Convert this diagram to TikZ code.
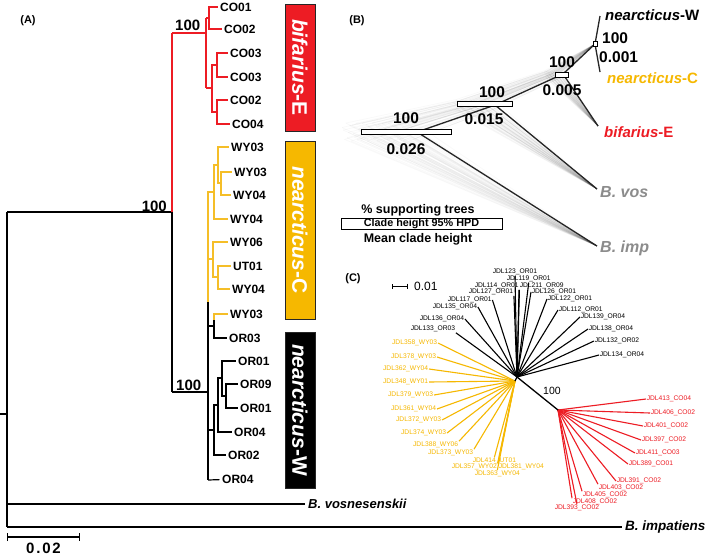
\documentclass[tikz,border=0pt]{standalone}
\usepackage{fontspec}
\setmainfont{Liberation Sans}
\usetikzlibrary{calc,arrows.meta}
\newcommand\myfs[1]{\fontsize{#1}{#1}\selectfont}
\definecolor{cRed}{RGB}{237,28,36}
\definecolor{cYel}{RGB}{246,184,0}
\definecolor{cYelL}{RGB}{245,190,40}
\definecolor{cGrayB}{RGB}{140,140,140}
\begin{document}
\begin{tikzpicture}[x=1pt,y=-1pt,
  brA/.style={line width=1.2pt, draw=black},
  brR/.style={line width=1.2pt, draw=cRed},
  brY/.style={line width=1.2pt, draw=cYelL},
  tipA/.style={anchor=west, inner sep=2.5pt, font=\myfs{12}\bfseries},
  supA/.style={inner sep=0pt, font=\myfs{15}\bfseries},
  cbar/.style={draw=black!85, line width=1pt, text=white, font=\myfs{21}\bfseries, rotate=-90, minimum height=30pt, inner sep=0pt},
  panel/.style={font=\myfs{11}\bfseries, inner sep=0pt},
  brB/.style={line width=1.3pt, draw=black!85},
  hpd/.style={draw=black, fill=white, line width=0.9pt, inner sep=0pt},
  supB/.style={font=\myfs{15.5}\bfseries, inner sep=0pt},
  tipB/.style={anchor=west, font=\myfs{15}\bfseries, inner sep=0pt},
  cloud/.style={draw=black, opacity=0.025, line width=0.8pt},
  legB/.style={font=\myfs{12.5}\bfseries, inner sep=0pt},
  brC/.style={line width=1.1pt},
  labC/.style={font=\myfs{6.7}, inner sep=0.6pt}
]
\useasboundingbox (0,0) rectangle (709,558);
\fill[white] (0,0) rectangle (709,558);

% ================= Panel A =================
\node[panel] (pA) at (28,21) {(A)};

% tip labels
\node[tipA] (CO01) at (217.5,7) {CO01};
\node[tipA] (CO02a) at (221.5,29) {CO02};
\node[tipA] (CO03a) at (227.5,53) {CO03};
\node[tipA] (CO03b) at (227.5,77) {CO03};
\node[tipA] (CO02b) at (227.5,100) {CO02};
\node[tipA] (CO04) at (229.5,124) {CO04};
\node[tipA] (WY03a) at (228.5,147) {WY03};
\node[tipA] (WY03b) at (231.5,172) {WY03};
\node[tipA] (WY04a) at (230.5,195) {WY04};
\node[tipA] (WY04b) at (227.5,219) {WY04};
\node[tipA] (WY06) at (227.5,242) {WY06};
\node[tipA] (UT01) at (230.5,266) {UT01};
\node[tipA] (WY04c) at (229.5,289) {WY04};
\node[tipA] (WY03d) at (227.5,314) {WY03};
\node[tipA] (OR03) at (226.5,338) {OR03};
\node[tipA] (OR01a) at (235.5,361) {OR01};
\node[tipA] (OR09) at (237.5,384) {OR09};
\node[tipA] (OR01b) at (237.5,408) {OR01};
\node[tipA] (OR04a) at (231.5,432) {OR04};
\node[tipA] (OR02) at (225.5,455) {OR02};
\node[tipA] (OR04b) at (219.5,479) {OR04};

% root and outgroups
\coordinate (R0) at (0,414);
\coordinate (R) at (7,414);
\coordinate (Ra) at (7,212);
\coordinate (Rv) at (7,504);
\coordinate (Ri) at (7,527);
\node[anchor=west, inner sep=3pt, font=\myfs{13}\bfseries\itshape] (vos) at (305,504) {B. vosnesenskii};
\node[anchor=west, inner sep=3pt, font=\myfs{13.5}\bfseries\itshape] (imp) at (622,527) {B. impatiens};
\draw[brA] (R0) -- (R);
\draw[brA] (Ra) -- (Ri);
\draw[brA] (Rv) -- (vos);
\draw[brA] (Ri) -- (imp);

% ingroup
\coordinate (Ia) at (172,212);
\coordinate (Ib) at (172,33);
\coordinate (Ic) at (172,392);
\draw[brA] (Ra) -- (Ia);
\draw[brR] (Ia) -- (Ib);
\draw[brA] (Ia) -- (Ic);
\node[supA, anchor=east] (s1) at (167,206) {100};
\node[supA, anchor=west] (s2) at (175,25) {100};
\node[supA, anchor=west] (s3) at (176,385) {100};

% bifarius clade
\coordinate (bRj) at (206,33);
\coordinate (bR1) at (206,18);
\coordinate (bR2) at (206,88);
\coordinate (n1) at (209,18);
\coordinate (n2) at (212,88);
\coordinate (n3) at (217,65);
\coordinate (n4) at (217,112);
\draw[brR] (Ib) -- (bRj);
\draw[brR] (bR1) -- (bR2);
\draw[brR] (bR1) -- (n1);
\draw[brR] (bR2) -- (n2);
\draw[brR] (n1) |- (CO01);
\draw[brR] (n1) |- (CO02a);
\draw[brR] (n2) |- (n3);
\draw[brR] (n2) |- (n4);
\draw[brR] (n3) |- (CO03a);
\draw[brR] (n3) |- (CO03b);
\draw[brR] (n4) |- (CO02b);
\draw[brR] (n4) |- (CO04);

% nearcticus-C clade
\coordinate (yA) at (221,183);
\coordinate (yB) at (218,165);
\coordinate (yC) at (214,192);
\coordinate (yD) at (218,277);
\coordinate (yE) at (213,259);
\coordinate (yF) at (208,225);
\coordinate (yG) at (208,302);
\draw[brY] (yA) |- (WY03b);
\draw[brY] (yA) |- (WY04a);
\draw[brY] (yB) |- (WY03a);
\draw[brY] (yB) |- (yA);
\draw[brY] (yC) |- (yB);
\draw[brY] (yC) |- (WY04b);
\draw[brY] (yD) |- (UT01);
\draw[brY] (yD) |- (WY04c);
\draw[brY] (yE) |- (WY06);
\draw[brY] (yE) |- (yD);
\draw[brY] (yF) |- (yC);
\draw[brY] (yF) |- (yE);
\draw[brY] (yF) -- (yG);

% nearcticus-W clade
\coordinate (bb0) at (208,392);
\coordinate (bb1) at (208,326);
\coordinate (bb2) at (208,430);
\coordinate (nWb) at (208,480);
\coordinate (h) at (214,326);
\coordinate (hy) at (214,320);
\coordinate (i) at (226,396);
\coordinate (j) at (222,378);
\coordinate (k) at (218,405);
\coordinate (l) at (214,430);
\draw[brA] (Ic) -- (bb0);
\draw[brA] (yG) -- (nWb);
\draw[brA] (bb1) -- (h);
\draw[brY] (hy) |- (WY03d);
\draw[brA] (h) -- (hy);
\draw[brA] (h) |- (OR03);
\draw[brA] (i) |- (OR09);
\draw[brA] (i) |- (OR01b);
\draw[brA] (j) |- (OR01a);
\draw[brA] (j) |- (i);
\draw[brA] (k) |- (j);
\draw[brA] (k) |- (OR04a);
\draw[brA] (l) |- (k);
\draw[brA] (l) |- (OR02);
\draw[brA] (bb2) -- (l);
\draw[brA] (nWb) -- (OR04b);

% clade bars
\node[cbar, fill=cRed, minimum width=127pt] (barE) at (300,67.5) {\textit{bifarius}-E};
\node[cbar, fill=cYel, minimum width=178pt] (barC) at (300,230) {\textit{nearcticus}-C};
\node[cbar, fill=black, minimum width=156pt] (barW) at (300,410) {\textit{nearcticus}-W};

% scale bar
\coordinate (sA1) at (7,537);
\coordinate (sA2) at (80,537);
\draw[line width=1.2pt, {Bar[width=8pt]}-{Bar[width=8pt]}] (sA1) -- (sA2);
\node[font=\myfs{15}\bfseries, inner sep=0pt] (sAl) at (43.5,548) {\addfontfeature{LetterSpace=12}0.02};

% ================= Panel B =================
\node[panel] (pB) at (357,21) {(B)};
\coordinate (rB) at (417,132);
\coordinate (bn2) at (495,105);
\coordinate (bn3) at (563,74);
\coordinate (bn4) at (595,44);
\coordinate (tW) at (600,16);
\coordinate (tC) at (600,72);
\coordinate (tE) at (598,126);
\coordinate (tV) at (597,189);
\coordinate (tI) at (597,246);

\foreach \k in {1,...,60}{
  \pgfmathsetmacro\dy{9*sin(\k*137.5)}
  \pgfmathsetmacro\dx{-1.25*\k}
  \coordinate (c1) at ($(rB)+(\dx,\dy)$);
  \coordinate (c2) at ($(bn2)+(0.55*\dx,0.6*\dy)$);
  \coordinate (c3) at ($(bn3)+(0.25*\dx,0.4*\dy)$);
  \draw[cloud] (c1) -- (tI);
  \draw[cloud] (c1) -- (c2) -- (tV);
  \draw[cloud] (c2) -- (c3) -- (tE);
  \draw[cloud] (c3) -- (bn4);
}

\draw[brB] (rB) -- (bn2) -- (bn3) -- (bn4);
\draw[brB] (bn4) -- (tW);
\draw[brB] (bn4) -- (tC);
\draw[brB] (bn3) -- (tE);
\draw[brB] (bn2) -- (tV);
\draw[brB] (rB) -- (tI);

\node[hpd, minimum width=90pt, minimum height=5pt] (hpd1) at (406,131.5) {};
\node[hpd, minimum width=55pt, minimum height=4.5pt] (hpd2) at (484.5,104) {};
\node[hpd, minimum width=13pt, minimum height=5pt] (hpd3) at (561.5,74.5) {};
\node[hpd, minimum width=4pt, minimum height=5pt] (hpd4) at (595,43.5) {};

\node[supB] (b1s) at (406,118) {100};
\node[supB] (b1h) at (406,149) {0.026};
\node[supB] (b2s) at (492,92) {100};
\node[supB] (b2h) at (484,119) {0.015};
\node[supB] (b3s) at (562,62) {100};
\node[supB] (b3h) at (562,90) {0.005};
\node[supB, anchor=west] (b4s) at (602,38) {100};
\node[supB, anchor=west] (b4h) at (599,57) {0.001};

\node[tipB] (lW) at (605,15) {\textit{nearcticus}-W};
\node[tipB, text=cYel] (lC) at (607,78) {\textit{nearcticus}-C};
\node[tipB, text=cRed] (lE) at (604,132) {\textit{bifarius}-E};
\node[tipB, text=cGrayB, font=\myfs{16}\bfseries\itshape] (lV) at (600,192) {B. vos};
\node[tipB, text=cGrayB, font=\myfs{16}\bfseries\itshape] (lI) at (600,248) {B. imp};

\node[legB] (legT) at (418,210) {\% supporting trees};
\node[hpd, minimum width=161pt, minimum height=11pt, font=\myfs{10.8}\bfseries] (legBox) at (421.5,223.5) {Clade height 95\% HPD};
\node[legB] (legM) at (418,239) {Mean clade height};

% ================= Panel C =================
\node[panel] (pC) at (353,279) {(C)};
\coordinate (sc1) at (392,286);
\coordinate (sc2) at (408,286);
\draw[line width=1pt, {Bar[width=5pt]}-{Bar[width=5pt]}] (sc1) -- (sc2);
\node[anchor=west, inner sep=0pt, font=\myfs{12}] (scl) at (414,286) {0.01};

\coordinate (hK) at (517,377);
\coordinate (hY) at (515,381);
\coordinate (hR) at (558,410);

\foreach \n/\t/\x/\y/\a in {
  k123/JDL123\_OR01/492/272/south,
  k119/JDL119\_OR01/506/279/south,
  k114/JDL114\_OR01/474/286/south east,
  k211/JDL211\_OR09/519/286/south west,
  k127/JDL127\_OR01/468/292/south east,
  k126/JDL126\_OR01/531/292/west,
  k117/JDL117\_OR01/447/300/east,
  k122/JDL122\_OR01/547/299/west,
  k135/JDL135\_OR04/432/307/east,
  k112/JDL112\_OR01/558/310/west,
  k139/JDL139\_OR04/580/317/west,
  k136/JDL136\_OR04/419/319/east,
  k133/JDL133\_OR03/410/329/south east,
  k138/JDL138\_OR04/588/329/west,
  k132/JDL132\_OR02/594/341/west,
  k134/JDL134\_OR04/599/355/west}{
  \node[labC, anchor=west] (\n) at (\x,\y) {\t};
  \draw[brC] (hK) -- (\n.\a);
}

\foreach \n/\t/\x/\y/\a in {
  y358/JDL358\_WY03/438/343/east,
  y378/JDL378\_WY03/437/357/east,
  y362/JDL362\_WY04/429/369/east,
  y348/JDL348\_WY01/429/382/east,
  y379/JDL379\_WY03/434/395/east,
  y361/JDL361\_WY04/437/409/east,
  y372/JDL372\_WY03/442/420/east,
  y374/JDL374\_WY03/447/433/east,
  y388/JDL388\_WY06/459/445/north east,
  y373/JDL373\_WY03/474/453/north east}{
  \node[labC, anchor=east, text=cYel] (\n) at (\x,\y) {\t};
  \draw[brC, draw=cYel] (hY) -- (\n.\a);
}
\foreach \n/\t/\x/\y/\a in {
  y414/JDL414\_UT01/472/461/north,
  y357/JDL357\_WY02/451/467/north east,
  y381/JDL381\_WY04/498/467/north west,
  y363/JDL363\_WY04/474/474/north}{
  \node[labC, anchor=west, text=cYel] (\n) at (\x,\y) {\t};
  \draw[brC, draw=cYel] (hY) -- (\n.\a);
}

\foreach \n/\t/\x/\y/\a in {
  r413/JDL413\_CO04/646/399/west,
  r406/JDL406\_CO02/650/413/west,
  r401/JDL401\_CO02/643/426/west,
  r397/JDL397\_CO02/641/440/west,
  r411/JDL411\_CO03/635/453/west,
  r389/JDL389\_CO01/628/464/west,
  r391/JDL391\_CO02/616/481/west,
  r403/JDL403\_CO02/598/488/north west,
  r405/JDL405\_CO02/582/495/north west,
  r408/JDL408\_CO02/572/502/north west,
  r393/JDL393\_CO02/554/508/north}{
  \node[labC, anchor=west, text=cRed] (\n) at (\x,\y) {\t};
  \draw[brC, draw=cRed] (hR) -- (\n.\a);
}

\draw[line width=1.3pt] (hY) -- (hK) -- (hR);
\node[inner sep=0pt, font=\myfs{10.5}] (c100) at (552,391) {100};

\end{tikzpicture}
\end{document}
